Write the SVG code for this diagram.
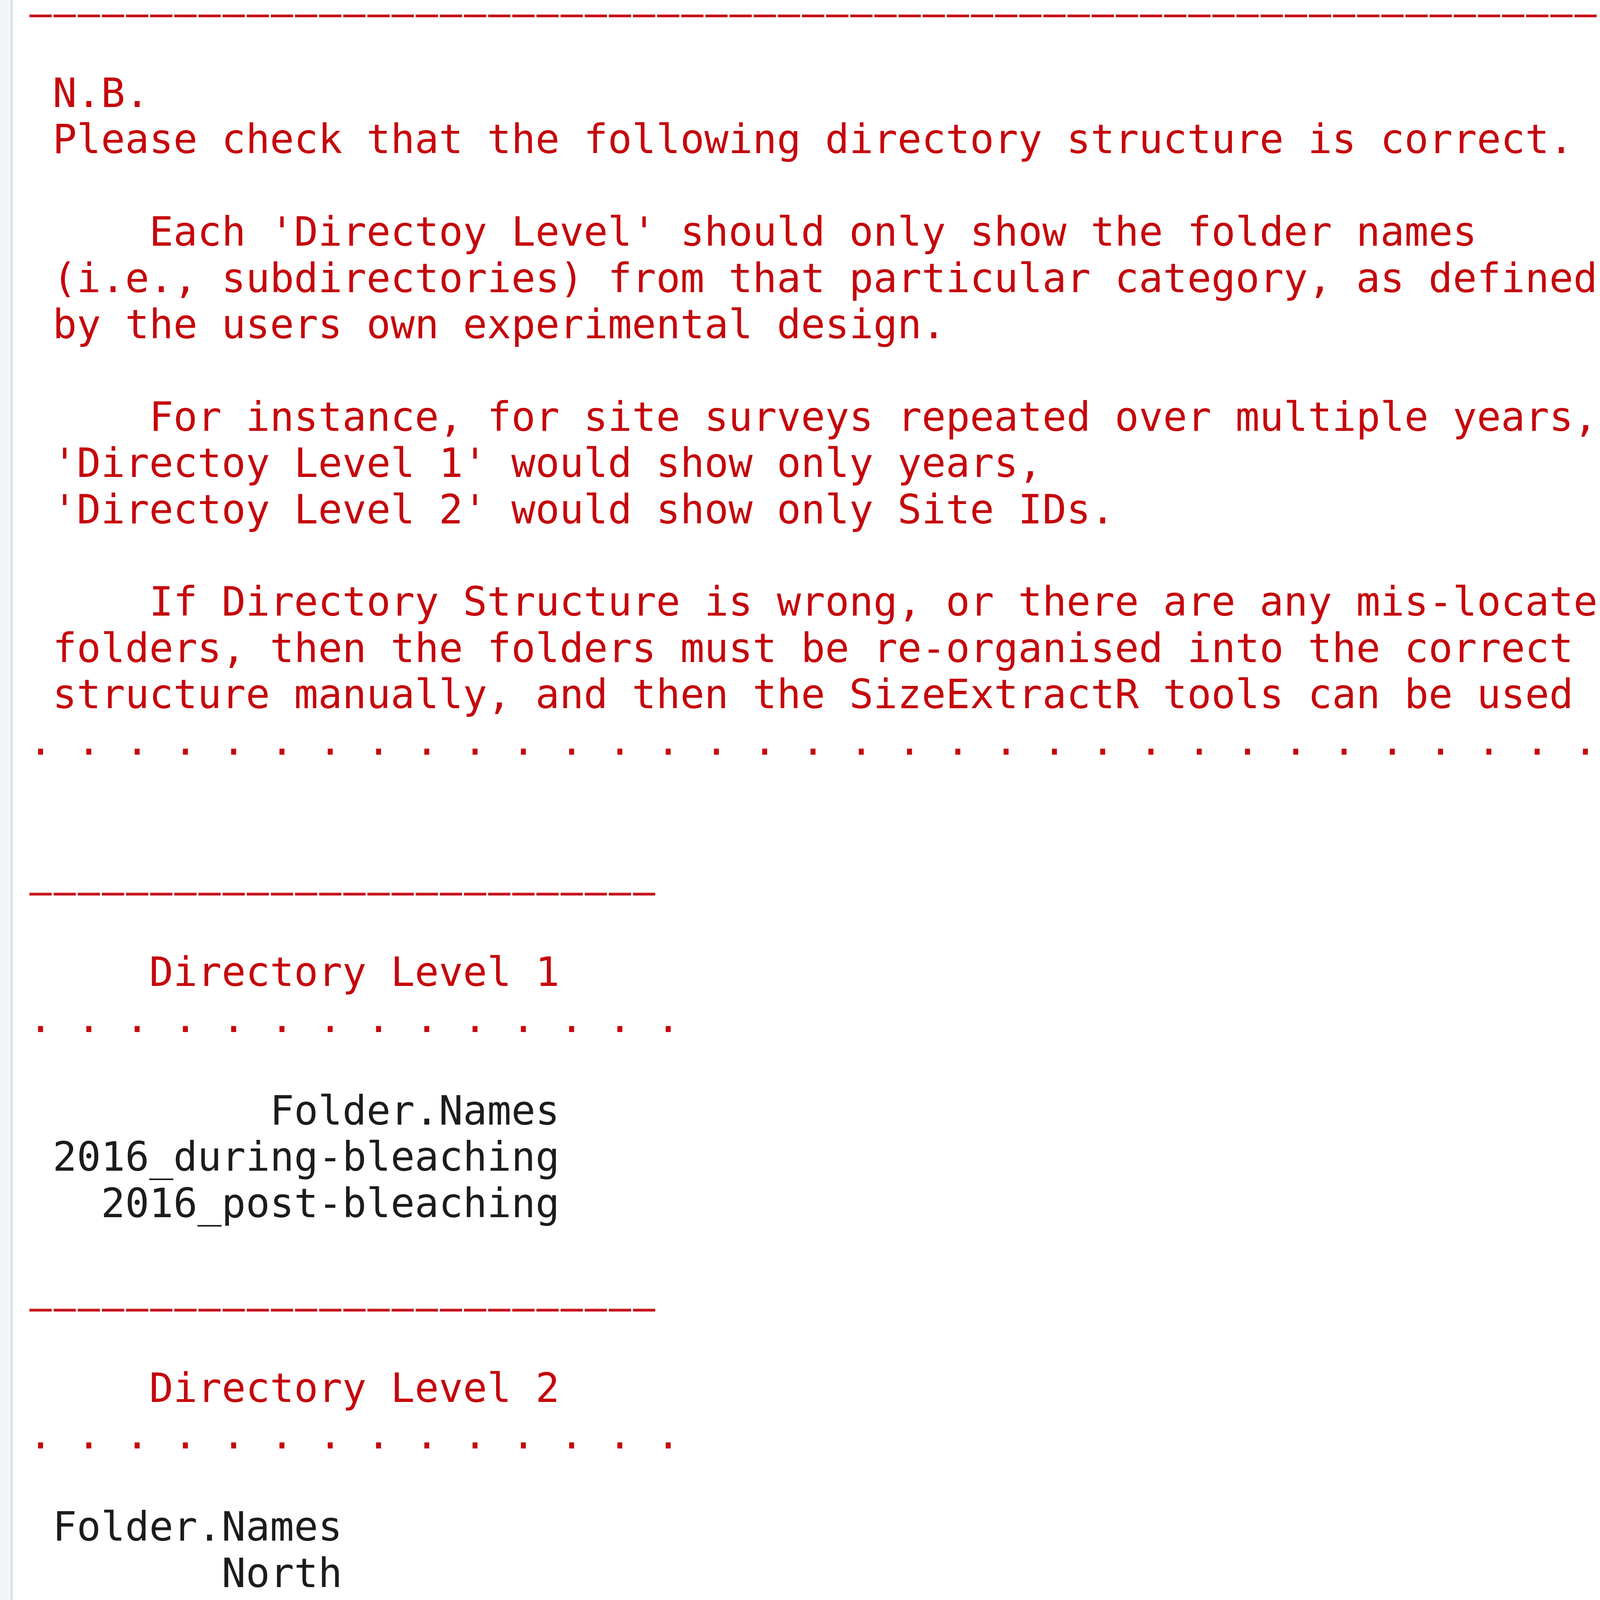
<svg xmlns="http://www.w3.org/2000/svg" width="4187" height="5834" viewBox="0 0 4187 5834" xml:space="preserve">
<style>
.t { font-family: "DejaVu Sans Mono", "Liberation Mono", monospace; font-size: 102.65px; white-space: pre; }
.r { fill: #c5060b; }
.k { fill: #1c1c1c; }
.b { fill: #0000ff; }
.rule { stroke: #c8101a; stroke-width: 7; stroke-dasharray: 57 4.8; fill: none; }
</style>
<rect x="0" y="0" width="4187" height="5834" fill="#ffffff"/>
<g id="gutter">
<rect x="0" y="0" width="27" height="5797" fill="#f3f4f6"/>
<rect x="27" y="0" width="6" height="5797" fill="#dde1e6"/>
</g>
<g id="rules">
<line class="rule" x1="75.4" y1="40.7" x2="4087.6" y2="40.7"/>
<line class="rule" x1="75.4" y1="2289" x2="1677.4" y2="2289"/>
<line class="rule" x1="75.4" y1="3354" x2="1677.4" y2="3354"/>
<line class="rule" x1="75.4" y1="4420" x2="2357.2" y2="4420"/>
<line class="rule" x1="137.2" y1="4893" x2="2419" y2="4893"/>
</g>
<g id="note">
<text class="t r" x="134.8" y="274">N.B.</text>
<text class="t r" x="134.8" y="392.4">Please check that the following directory structure is correct.</text>
<text class="t r" x="382" y="629.2">Each 'Directoy Level' should only show the folder names</text>
<text class="t r" x="134.8" y="747.6">(i.e., subdirectories) from that particular category, as defined</text>
<text class="t r" x="134.8" y="866">by the users own experimental design.</text>
<text class="t r" x="382" y="1102.8">For instance, for site surveys repeated over multiple years,</text>
<text class="t r" x="134.8" y="1221.2">'Directoy Level 1' would show only years,</text>
<text class="t r" x="134.8" y="1339.6">'Directoy Level 2' would show only Site IDs.</text>
<text class="t r" x="382" y="1576.4">If Directory Structure is wrong, or there are any mis-located</text>
<text class="t r" x="134.8" y="1694.8">folders, then the folders must be re-organised into the correct</text>
<text class="t r" x="134.8" y="1813.2">structure manually, and then the SizeExtractR tools can be used</text>
<text class="t r" x="73" y="1931.6">. . . . . . . . . . . . . . . . . . . . . . . . . . . . . . . . .</text>
</g>
<g id="level1">
<text class="t r" x="382" y="2523.6">Directory Level 1</text>
<text class="t r" x="73" y="2642">. . . . . . . . . . . . . .</text>
<text class="t k" x="691" y="2878.8">Folder.Names</text>
<text class="t k" x="134.8" y="2997.2">2016_during-bleaching</text>
<text class="t k" x="258.4" y="3115.6">2016_post-bleaching</text>
</g>
<g id="level2">
<text class="t r" x="382" y="3589.2">Directory Level 2</text>
<text class="t r" x="73" y="3707.6">. . . . . . . . . . . . . .</text>
<text class="t k" x="134.8" y="3944.4">Folder.Names</text>
<text class="t k" x="567.4" y="4062.8">North</text>
<text class="t k" x="320.2" y="4181.2">Northwest</text>
</g>
<g id="question">
<text class="t r" x="134.8" y="4654.8">Is the directory structure correct?</text>
<text class="t r" x="443.8" y="4773.2">(see above for details)</text>
</g>
<g id="menu">
<text class="t k" x="73" y="5365.2">1: Yes</text>
<text class="t k" x="73" y="5483.6">2: No</text>
<text class="t b" x="73" y="5720.4">Selection: </text>
<line x1="767" y1="5630" x2="767" y2="5747" stroke="#bdbdbd" stroke-width="7"/>
</g>
</svg>
